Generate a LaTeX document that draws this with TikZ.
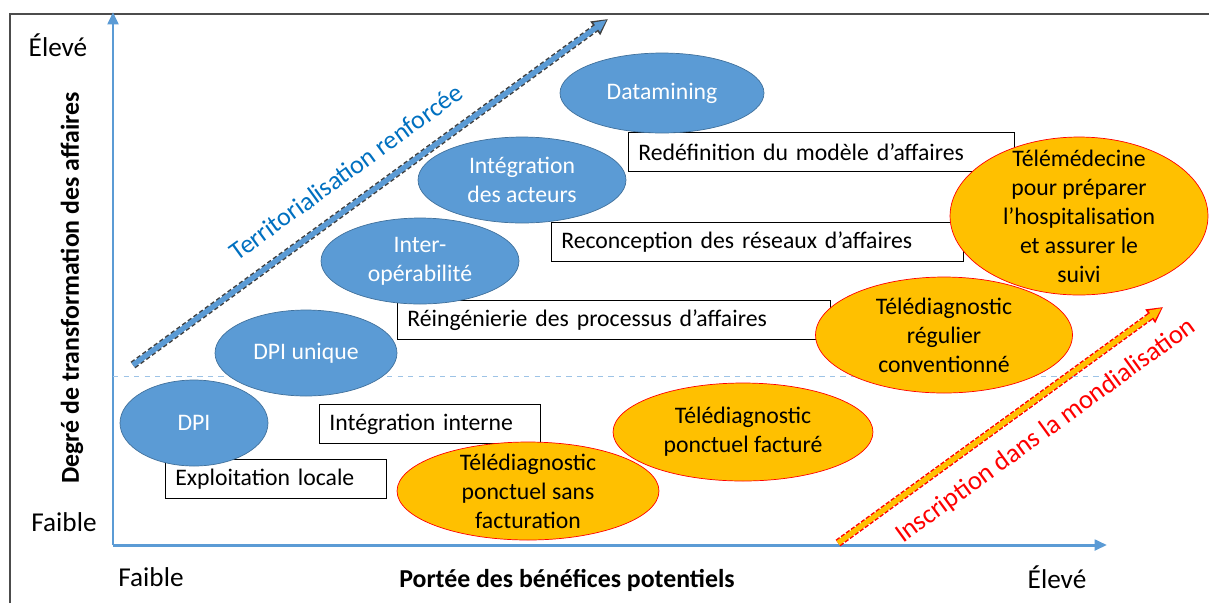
\documentclass[tikz,border=0pt]{standalone}
\usepackage{fontspec}
\setmainfont{Carlito}
\usetikzlibrary{shapes.geometric,arrows.meta}
\definecolor{axisblue}{HTML}{5B9BD5}
\definecolor{bubedge}{HTML}{41719C}
\definecolor{orangefill}{HTML}{FFC000}
\definecolor{labelblue}{HTML}{0070C0}
\definecolor{gridblue}{HTML}{9DC3E6}

\begin{document}
\begin{tikzpicture}[x=0.02cm,y=-0.02cm,
  every node/.style={font=\fontsize{13.5}{16.5}\selectfont},
  bluebub/.style={ellipse,draw=bubedge,fill=axisblue,inner sep=0pt},
  orabub/.style={ellipse,draw=red,fill=orangefill,inner sep=0pt},
  bubtext/.style={align=center,inner sep=0pt},
  stage/.style={draw=black,fill=white,anchor=north west,inner xsep=0.2cm,inner ysep=0pt,minimum height=0.78cm,align=left},
  levellabel/.style={font=\fontsize{15.5}{18}\selectfont},
  axistitle/.style={font=\fontsize{14.7}{18}\selectfont\bfseries},
  axis/.style={axisblue,line width=1.7pt,-{Triangle[length=7pt,width=6pt]}}]
\useasboundingbox (0,0) rectangle (1209,603);

\draw[black!70,line width=1.2pt] (10,603) -- (10,14) -- (1209,14);

\coordinate (origin) at (113,545);
\coordinate (ytop) at (113,12);
\coordinate (xend) at (1107,545);
\draw[axis] (origin) -- (ytop);
\draw[axis] (origin) -- (xend);
\draw[gridblue,dashed,line width=0.5pt] (113,376) -- (1107,376);

\node[levellabel] (yhigh) at (58,45) {Élevé};
\node[levellabel] (ylow) at (64,522) {Faible};
\node[levellabel] (xlow) at (151,577) {Faible};
\node[levellabel] (xhigh) at (1057,577) {Élevé};
\node[axistitle] (xtitle) at (567,580) {Portée des bénéfices potentiels};
\node[axistitle,rotate=90] (ytitle) at (72,288) {Degré de transformation des affaires};

\coordinate (terrA) at (133,365);
\coordinate (terrB) at (608,19);
\draw[black!75,line width=4.6pt,dash pattern=on 2.5pt off 1.5pt,-{Triangle[length=9pt,width=9pt]}] (terrA) -- (terrB);
\draw[axisblue,line width=3pt,shorten >=1pt,-{Triangle[length=7pt,width=6pt]}] (terrA) -- (terrB);
\node[labelblue,rotate=36,font=\fontsize{14.8}{18}\selectfont] (terr) at (346,172) {Territorialisation renforcée};

\coordinate (mondA) at (838,543);
\coordinate (mondB) at (1163,307);
\draw[red,line width=4.6pt,dash pattern=on 2.5pt off 1pt,-{Triangle[length=9pt,width=9pt]}] (mondA) -- (mondB);
\draw[orangefill,line width=3pt,shorten >=1pt,-{Triangle[length=7pt,width=6pt]}] (mondA) -- (mondB);
\node[red,rotate=36,font=\fontsize{15.2}{18}\selectfont] (mond) at (1046,431) {Inscription dans la mondialisation};

\node[stage,text width=4.02cm] (locale) at (165,459) {Exploitation locale};
\node[stage,text width=4.02cm] (interne) at (319,404) {Intégration interne};
\node[stage,text width=8.26cm] (reing) at (397,300) {Réingénierie des processus d’affaires};
\node[stage,text width=7.84cm] (recon) at (551,222) {Reconception des réseaux d’affaires};
\node[stage,text width=7.32cm] (redef) at (628,132) {Redéfinition du modèle d’affaires};

\node[bluebub,minimum width=2.96cm,minimum height=1.72cm] (dpi) at (194,423) {};
\node[bubtext,white] at (dpi) {DPI};
\node[bluebub,minimum width=3.64cm,minimum height=1.72cm] (unique) at (306,353) {};
\node[bubtext,white] at (unique) {DPI unique};
\node[bluebub,minimum width=3.96cm,minimum height=1.72cm] (interop) at (420,261) {};
\node[bubtext,white] at (interop) {Inter-\\opérabilité};
\node[bluebub,minimum width=4.16cm,minimum height=1.72cm] (acteurs) at (522,180) {};
\node[bubtext,white] at (acteurs) {Intégration\\des acteurs};
\node[bluebub,minimum width=4.08cm,minimum height=1.6cm] (datamin) at (662,93) {};
\node[bubtext,white] at (datamin) {Datamining};

\node[orabub,minimum width=5.2cm,minimum height=1.96cm] (facture) at (743,432) {};
\node[bubtext] at (facture) {Télédiagnostic\\ponctuel facturé};
\node[orabub,minimum width=5.24cm,minimum height=1.96cm] (sansfact) at (528,491) {};
\node[bubtext] at (sansfact) {Télédiagnostic\\ponctuel sans\\facturation};
\node[orabub,minimum width=5.14cm,minimum height=2.32cm] (regulier) at (944,335) {};
\node[bubtext] at (regulier) {Télédiagnostic\\régulier\\conventionné};
\node[orabub,minimum width=5.16cm,minimum height=3.16cm] (telemed) at (1079,216) {};
\node[bubtext] at (telemed) {Télémédecine\\pour préparer\\l’hospitalisation\\et assurer le\\suivi};
\end{tikzpicture}
\end{document}
